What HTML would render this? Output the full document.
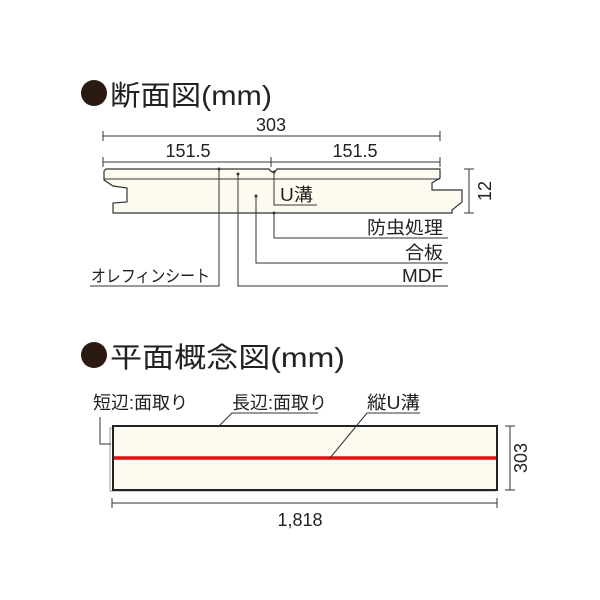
<!DOCTYPE html>
<html><head><meta charset="utf-8"><style>
html,body{margin:0;padding:0;background:#fff;}
svg{display:block;}
text{font-family:"Liberation Sans","Noto Sans CJK JP",sans-serif;fill:#222;}
</style></head><body>
<svg width="600" height="600" viewBox="0 0 600 600" xmlns="http://www.w3.org/2000/svg">
<circle cx="94" cy="93" r="13" fill="#2a1a12"/>
<text x="110" y="105" font-size="28" textLength="162" lengthAdjust="spacingAndGlyphs">断面図(mm)</text>
<g stroke="#333" stroke-width="1" fill="none">
<line x1="103" y1="136" x2="440" y2="136"/><line x1="103" y1="131" x2="103" y2="141"/><line x1="440" y1="131" x2="440" y2="141"/>
<line x1="103" y1="162" x2="440" y2="162"/><line x1="103" y1="157" x2="103" y2="167"/><line x1="271" y1="157" x2="271" y2="167"/><line x1="440" y1="157" x2="440" y2="167"/>
<line x1="469" y1="169" x2="469" y2="213"/><line x1="464" y1="169" x2="474" y2="169"/><line x1="464" y1="213" x2="474" y2="213"/>
</g>
<text x="271" y="131" font-size="18" text-anchor="middle">303</text>
<text x="188" y="157" font-size="18" text-anchor="middle">151.5</text>
<text x="355" y="157" font-size="18" text-anchor="middle">151.5</text>
<text transform="translate(491,191) rotate(-90)" font-size="18" text-anchor="middle">12</text>
<path d="M106,169 L269,169 Q273,175 277,169 L440,169 L440,178 L432,183 L432,190 L462,190 L462,202 L452,210 L452,213 L113,213 L113,203 L127,202 L127,188 L113,186 L104,180 L104,171 Z" fill="#fdfbef" stroke="#333" stroke-width="1.2"/>
<line x1="104" y1="179" x2="440" y2="179" stroke="#333" stroke-width="1"/>
<g stroke="#333" stroke-width="1" fill="none">
<polyline points="219,169 219,286 90,286"/>
<polyline points="238,174 238,286 448,286"/>
<polyline points="256,196 256,263 448,263"/>
<polyline points="274,213 274,238 448,238"/>
<polyline points="274,172 274,205 317,205"/>
</g>
<g fill="#333"><circle cx="219" cy="169" r="1.5"/><circle cx="238" cy="174" r="1.5"/><circle cx="256" cy="196" r="1.5"/><circle cx="274" cy="213" r="1.5"/><circle cx="274" cy="172" r="1.5"/></g>
<text x="280" y="201" font-size="18" textLength="33" lengthAdjust="spacingAndGlyphs">U溝</text>
<text x="367" y="234" font-size="18" textLength="76" lengthAdjust="spacingAndGlyphs">防虫処理</text>
<text x="405" y="259" font-size="18" textLength="38" lengthAdjust="spacingAndGlyphs">合板</text>
<text x="402" y="282" font-size="18" textLength="41" lengthAdjust="spacingAndGlyphs">MDF</text>
<text x="91" y="282" font-size="17" textLength="119" lengthAdjust="spacingAndGlyphs">オレフィンシート</text>
<circle cx="94" cy="355" r="13" fill="#2a1a12"/>
<text x="110" y="367" font-size="28" textLength="235" lengthAdjust="spacingAndGlyphs">平面概念図(mm)</text>
<rect x="110" y="428" width="385" height="63" fill="none" stroke="#999" stroke-width="1"/>
<rect x="113" y="426" width="384" height="64" fill="#fdfbef" stroke="#222" stroke-width="2"/>
<line x1="114" y1="458" x2="496" y2="458" stroke="#e01010" stroke-width="3.5"/>
<g stroke="#333" stroke-width="1" fill="none">
<polyline points="100,417 100,444 111,444"/>
<polyline points="318,413 232,413 219,426"/>
<polyline points="420,413 367,413 330,458"/>
<line x1="510" y1="426" x2="510" y2="490"/><line x1="505" y1="426" x2="515" y2="426"/><line x1="505" y1="490" x2="515" y2="490"/>
<line x1="112" y1="503" x2="497" y2="503"/><line x1="112" y1="498" x2="112" y2="508"/><line x1="497" y1="498" x2="497" y2="508"/>
</g>
<text x="93" y="409" font-size="18" textLength="95" lengthAdjust="spacingAndGlyphs">短辺:面取り</text>
<text x="232" y="409" font-size="18" textLength="95" lengthAdjust="spacingAndGlyphs">長辺:面取り</text>
<text x="367" y="409" font-size="18" textLength="53" lengthAdjust="spacingAndGlyphs">縦U溝</text>
<text transform="translate(527,458) rotate(-90)" font-size="18" text-anchor="middle">303</text>
<text x="300" y="526" font-size="18" text-anchor="middle">1,818</text>
</svg>
</body></html>
